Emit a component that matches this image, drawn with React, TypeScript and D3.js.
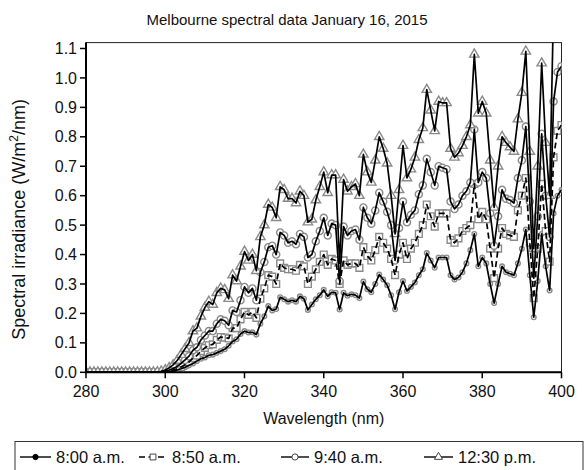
import React from 'react';
import * as d3 from 'd3';

// Wavelength grid (nm), 1 nm steps
const wavelengths = [
  280, 281, 282, 283, 284, 285, 286, 287, 288, 289,
  290, 291, 292, 293, 294, 295, 296, 297, 298, 299,
  300, 301, 302, 303, 304, 305, 306, 307, 308, 309,
  310, 311, 312, 313, 314, 315, 316, 317, 318, 319,
  320, 321, 322, 323, 324, 325, 326, 327, 328, 329,
  330, 331, 332, 333, 334, 335, 336, 337, 338, 339,
  340, 341, 342, 343, 344, 345, 346, 347, 348, 349,
  350, 351, 352, 353, 354, 355, 356, 357, 358, 359,
  360, 361, 362, 363, 364, 365, 366, 367, 368, 369,
  370, 371, 372, 373, 374, 375, 376, 377, 378, 379,
  380, 381, 382, 383, 384, 385, 386, 387, 388, 389,
  390, 391, 392, 393, 394, 395, 396, 397, 398, 399,
  400,
];

// Spectral irradiance (W/m^2/nm) per time of day
const irr0800 = [
  0, 0, 0, 0, 0, 0, 0, 0, 0, 0,
  0, 0, 0, 0, 0, 0, 0, 0, 0, 0,
  0.001, 0.002, 0.004, 0.008, 0.012, 0.017, 0.024, 0.03, 0.038, 0.046,
  0.05, 0.058, 0.06, 0.066, 0.072, 0.078, 0.09, 0.105, 0.112, 0.13,
  0.14, 0.135, 0.136, 0.128, 0.165, 0.19, 0.225, 0.21, 0.215, 0.255,
  0.248, 0.24, 0.245, 0.24, 0.258, 0.25, 0.212, 0.23, 0.248, 0.262,
  0.28, 0.258, 0.272, 0.27, 0.213, 0.27, 0.26, 0.265, 0.262, 0.252,
  0.308, 0.282, 0.272, 0.3, 0.332, 0.315, 0.296, 0.262, 0.214, 0.272,
  0.31, 0.276, 0.29, 0.305, 0.33, 0.35, 0.405, 0.38, 0.355, 0.39,
  0.39, 0.39, 0.33, 0.315, 0.322, 0.34, 0.37, 0.415, 0.47, 0.36,
  0.39, 0.37, 0.3, 0.235, 0.3, 0.36, 0.34, 0.335, 0.33, 0.37,
  0.42, 0.485, 0.33, 0.187, 0.31, 0.47, 0.36, 0.278, 0.54, 0.6,
  0.62,
];

const irr0850 = [
  0, 0, 0, 0, 0, 0, 0, 0, 0, 0,
  0, 0, 0, 0, 0, 0, 0, 0, 0, 0.001,
  0.002, 0.004, 0.008, 0.012, 0.018, 0.026, 0.035, 0.048, 0.057, 0.072,
  0.083, 0.092, 0.095, 0.11, 0.12, 0.118, 0.115, 0.15, 0.15, 0.18,
  0.205, 0.195, 0.205, 0.185, 0.25, 0.285, 0.33, 0.325, 0.3, 0.37,
  0.355, 0.35, 0.35, 0.345, 0.365, 0.36, 0.3, 0.325, 0.35, 0.375,
  0.4, 0.365, 0.385, 0.38, 0.3, 0.38, 0.365, 0.37, 0.37, 0.355,
  0.425, 0.395, 0.38, 0.415, 0.46, 0.44, 0.42, 0.385, 0.33, 0.4,
  0.44, 0.385, 0.42, 0.44, 0.47, 0.5, 0.57, 0.53, 0.495, 0.54,
  0.54, 0.54, 0.45, 0.44, 0.455, 0.48, 0.49, 0.5, 0.64, 0.52,
  0.545, 0.52, 0.42, 0.32, 0.42, 0.49, 0.47, 0.465, 0.46, 0.55,
  0.6, 0.66, 0.44, 0.252, 0.42, 0.64, 0.48, 0.376, 0.73, 0.82,
  0.84,
];

const irr0940 = [
  0, 0, 0, 0, 0, 0, 0, 0, 0, 0,
  0, 0, 0, 0, 0, 0, 0, 0, 0.0005, 0.002,
  0.004, 0.008, 0.013, 0.02, 0.03, 0.042, 0.055, 0.075, 0.085, 0.11,
  0.125, 0.14, 0.14, 0.165, 0.18, 0.175, 0.16, 0.21, 0.205, 0.245,
  0.29, 0.27, 0.285, 0.245, 0.34, 0.375, 0.425, 0.43, 0.4, 0.475,
  0.465, 0.44, 0.445, 0.435, 0.47, 0.46, 0.39, 0.4, 0.445, 0.48,
  0.525, 0.465, 0.505, 0.5, 0.31, 0.495, 0.465, 0.48, 0.485, 0.45,
  0.56, 0.525, 0.505, 0.55, 0.61, 0.58, 0.545, 0.5, 0.38, 0.49,
  0.58, 0.51, 0.535, 0.55, 0.605, 0.635, 0.725, 0.68, 0.635, 0.7,
  0.695, 0.69, 0.58, 0.555, 0.57, 0.6, 0.615, 0.645, 0.825, 0.645,
  0.68, 0.66, 0.54, 0.43, 0.53, 0.62, 0.59, 0.585, 0.575, 0.66,
  0.72, 0.835, 0.58, 0.32, 0.53, 0.81, 0.6, 0.46, 0.92, 1.02,
  1.04,
];

const irr1230 = [
  0, 0, 0, 0, 0, 0, 0, 0, 0, 0,
  0, 0, 0, 0, 0, 0, 0, 0, 0.001, 0.003,
  0.008, 0.015, 0.025, 0.04, 0.06, 0.08, 0.1, 0.14, 0.15, 0.19,
  0.22, 0.24, 0.23, 0.27, 0.285, 0.28, 0.25, 0.33, 0.31, 0.36,
  0.41, 0.38, 0.4, 0.345, 0.46, 0.5, 0.57, 0.56, 0.525, 0.63,
  0.62, 0.59, 0.59, 0.575, 0.615, 0.6, 0.51, 0.52, 0.585, 0.63,
  0.68, 0.61, 0.67, 0.67, 0.37, 0.655, 0.615, 0.63, 0.64, 0.6,
  0.74, 0.68, 0.645, 0.72, 0.8, 0.76, 0.71, 0.6, 0.47, 0.62,
  0.77, 0.66, 0.69, 0.73, 0.79, 0.83, 0.96, 0.89, 0.82, 0.92,
  0.915, 0.915, 0.76, 0.73, 0.745, 0.77, 0.8, 0.84, 1.08, 0.88,
  0.92, 0.88, 0.72, 0.56, 0.7, 0.8, 0.78, 0.765, 0.75, 0.86,
  0.95, 1.09, 0.75, 0.42, 0.7, 1.05, 0.78, 0.6, 1.25, 1.32,
  1.36,
];

const seriesLabels = ['8:00 a.m.', '8:50 a.m.', '9:40 a.m.', '12:30 p.m.'];
const xTicks = [280, 300, 320, 340, 360, 380, 400];
const yTicks = [0, 0.1, 0.2, 0.3, 0.4, 0.5, 0.6, 0.7, 0.8, 0.9, 1.0, 1.1];

const FONT = "'Liberation Sans', Arial, Helvetica, sans-serif";
const MARKER_STROKE = '#8a8a8a';

type SeriesStyle = {
  values: number[];
  label: string;
  symbol: d3.SymbolType;
  size: number;
  dash?: string;
  legendFill: string;
};

const series: SeriesStyle[] = [
  { values: irr0800, label: seriesLabels[0], symbol: d3.symbolCircle, size: 17, legendFill: '#000' },
  { values: irr0850, label: seriesLabels[1], symbol: d3.symbolSquare, size: 46, dash: '6,3.5', legendFill: '#fff' },
  { values: irr0940, label: seriesLabels[2], symbol: d3.symbolCircle, size: 40, legendFill: '#fff' },
  { values: irr1230, label: seriesLabels[3], symbol: d3.symbolTriangle, size: 38, legendFill: '#fff' },
];

export default function App() {
  const left = 86;
  const right = 561.5;
  const top = 42.6;
  const bottom = 372.3;

  const x = d3.scaleLinear().domain([280, 400]).range([left, right]);
  const y = d3.scaleLinear().domain([0, 1.12]).range([bottom, top]);

  const line = (vals: number[]) =>
    d3
      .line<number>()
      .x((_, i) => x(wavelengths[i]))
      .y((d) => y(d))(vals) || '';

  // legend entry anchors: sample start and text start
  const legendItems = [
    { sx: 20, tx: 56 },
    { sx: 139, tx: 172 },
    { sx: 281, tx: 314 },
    { sx: 424, tx: 458 },
  ];

  return (
    <svg
      width={584}
      height={470}
      style={{ position: 'absolute', left: 0, top: 0, background: '#fff' }}
      fontFamily={FONT}
    >
      <defs>
        <clipPath id="plotClip">
          <rect x={left} y={top} width={right - left} height={bottom - top} />
        </clipPath>
      </defs>
      <rect x={0} y={0} width={584} height={470} fill="#fff" />

      {/* title */}
      <text x={287} y={25} textAnchor="middle" fontSize={15} fill="#111">
        Melbourne spectral data January 16, 2015
      </text>

      {/* frame */}
      <rect x={left} y={top} width={right - left} height={bottom - top} fill="none" stroke="#222" strokeWidth={1} />

      {/* markers */}
      <g clipPath="url(#plotClip)">
        {series.map((s, si) => {
          const p = d3.symbol().type(s.symbol).size(s.size)() || '';
          return (
            <g key={`m${si}`}>
              {s.values.map((v, i) => (
                <path
                  key={i}
                  d={p}
                  transform={`translate(${x(wavelengths[i])},${y(v)})`}
                  fill="#fff"
                  stroke={MARKER_STROKE}
                  strokeWidth={1.4}
                />
              ))}
            </g>
          );
        })}
      </g>

      {/* lines */}
      <g clipPath="url(#plotClip)">
        {series.map((s, si) => (
          <path
            key={`l${si}`}
            d={line(s.values)}
            fill="none"
            stroke="#000"
            strokeWidth={1.7}
            strokeDasharray={s.dash}
            strokeLinejoin="round"
          />
        ))}
      </g>

      {/* axes */}
      <line x1={left} y1={top} x2={left} y2={bottom + 1} stroke="#000" strokeWidth={2} />
      <line x1={left - 1} y1={bottom} x2={right} y2={bottom} stroke="#000" strokeWidth={2} />
      {yTicks.map((t) => (
        <g key={`yt${t}`}>
          <line x1={left - 6} x2={left} y1={y(t)} y2={y(t)} stroke="#000" strokeWidth={1.5} />
          <text x={left - 9} y={y(t)} dy="0.35em" textAnchor="end" fontSize={16} fill="#111">
            {t.toFixed(1)}
          </text>
        </g>
      ))}
      {xTicks.map((t) => (
        <g key={`xt${t}`}>
          <line x1={x(t)} x2={x(t)} y1={bottom} y2={bottom + 6} stroke="#000" strokeWidth={1.5} />
          <text x={x(t)} y={bottom + 25} textAnchor="middle" fontSize={16} fill="#111">
            {t}
          </text>
        </g>
      ))}

      {/* axis titles */}
      <text x={(left + right) / 2} y={424} textAnchor="middle" fontSize={16} fill="#111">
        Wavelength (nm)
      </text>
      <text transform={`translate(25,${(top + bottom) / 2 + 12}) rotate(-90)`} textAnchor="middle" fontSize={18} fill="#111">
        Spectral irradiance (W/m
        <tspan dy={-7} fontSize={12}>2</tspan>
        <tspan dy={7}>/nm)</tspan>
      </text>

      {/* legend */}
      <rect x={15} y={441.5} width={568} height={40} fill="#fff" stroke="#333" strokeWidth={1} />
      {series.map((s, si) => {
        const it = legendItems[si];
        const p = d3.symbol().type(s.symbol).size(si === 0 ? 22 : s.size * 0.75)() || '';
        const cy = 457;
        return (
          <g key={`lg${si}`}>
            <line x1={it.sx} x2={it.tx - 5} y1={cy} y2={cy} stroke="#000" strokeWidth={1.4} strokeDasharray={s.dash} />
            <path
              d={p}
              transform={`translate(${(it.sx + it.tx - 5) / 2},${cy})`}
              fill={s.legendFill}
              stroke={si === 0 ? '#000' : '#444'}
              strokeWidth={1}
            />
            <text x={it.tx} y={cy} dy="0.35em" fontSize={16.5} fill="#111">
              {s.label}
            </text>
          </g>
        );
      })}
    </svg>
  );
}
